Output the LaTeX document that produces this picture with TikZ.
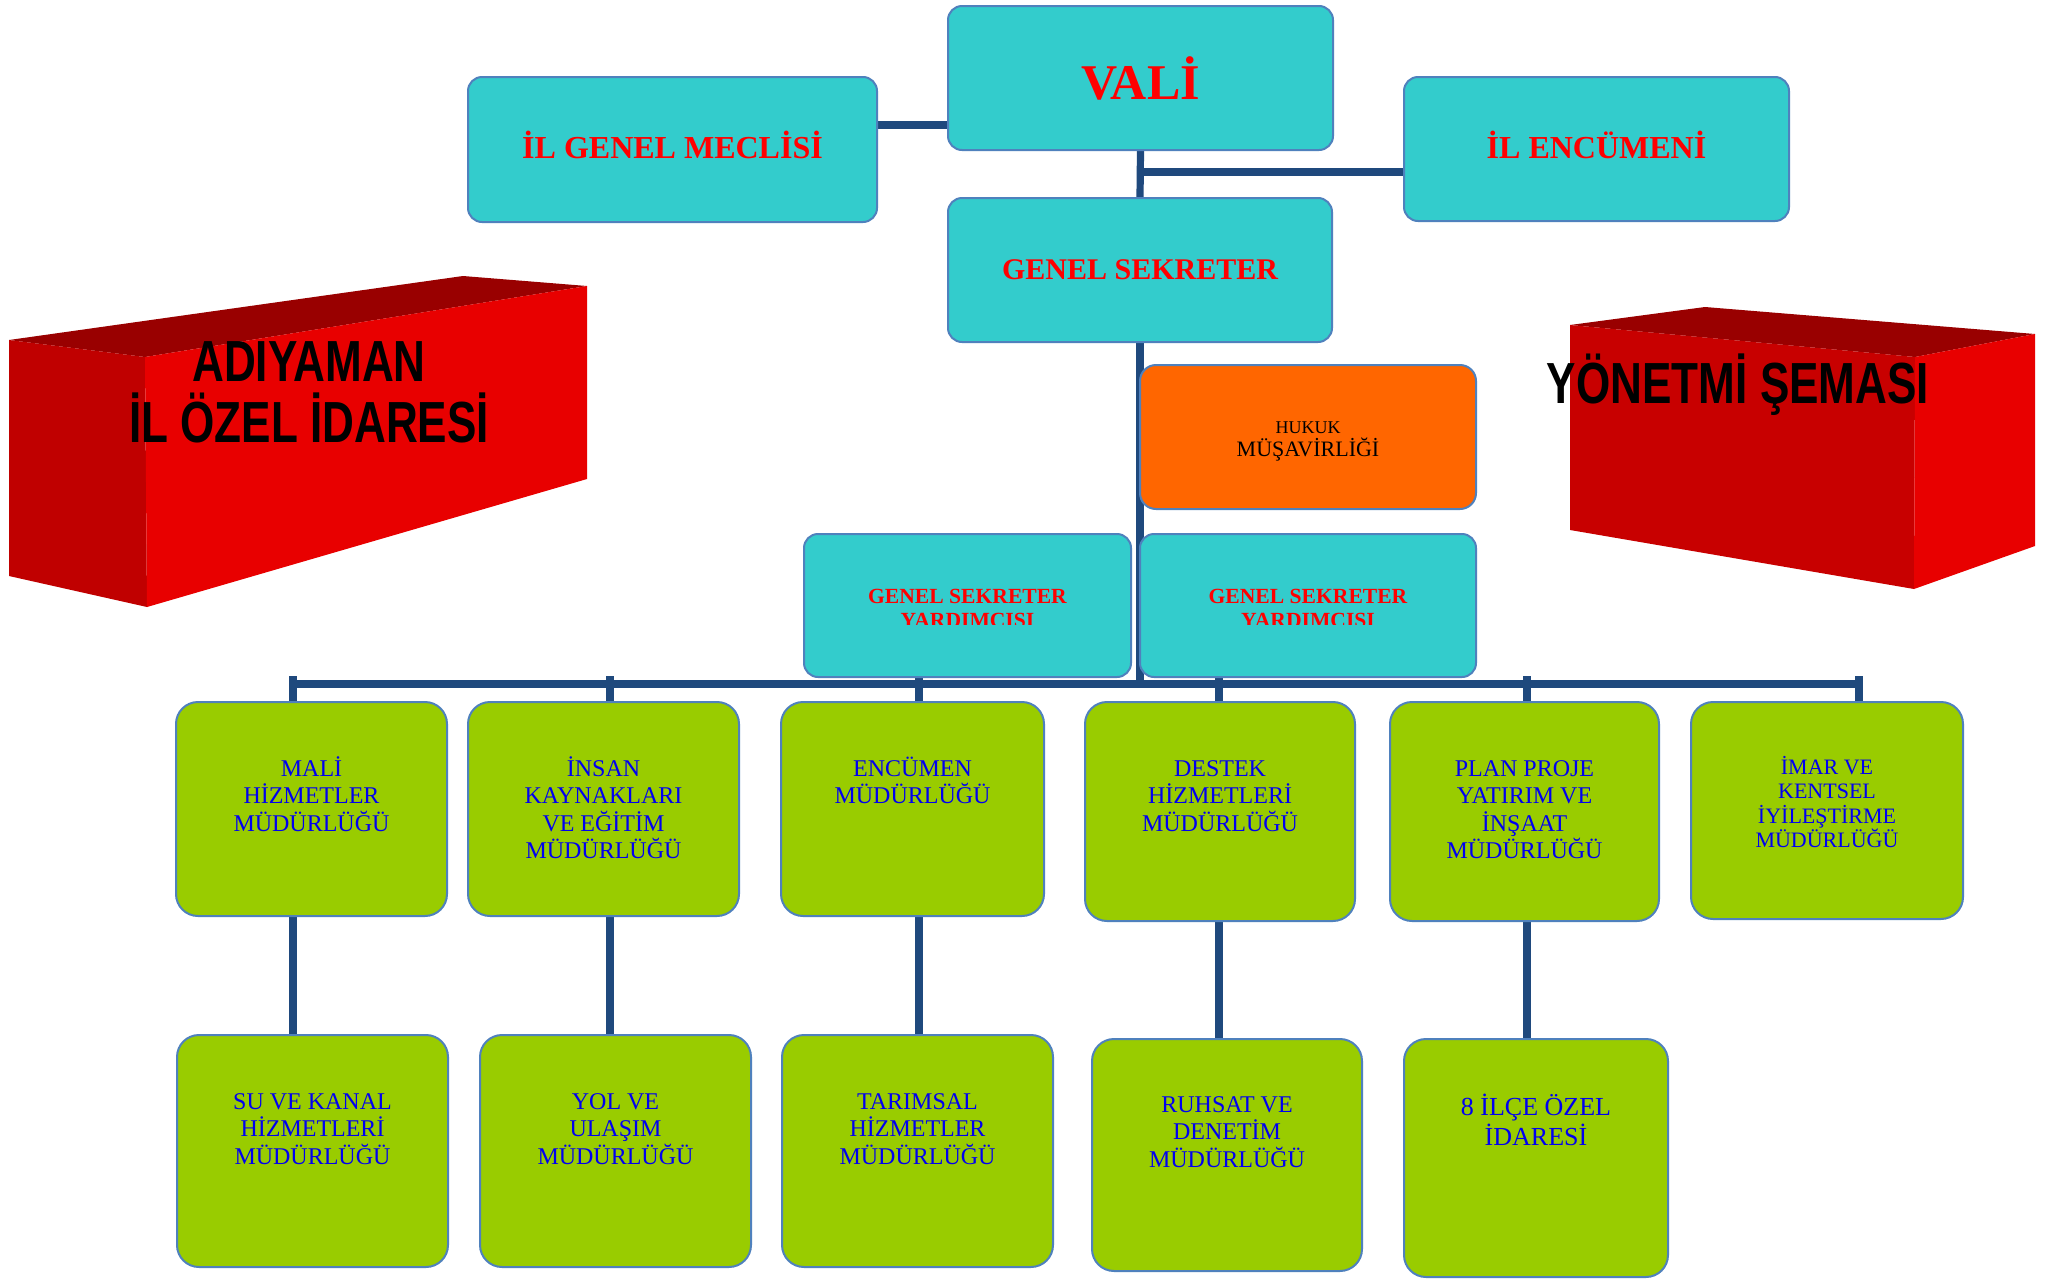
\documentclass[tikz,border=0pt]{standalone}
\usepackage{fontspec}
\setmainfont{Liberation Serif}
\newfontfamily\headsans[FakeStretch=0.76]{Liberation Sans}
\definecolor{cyanc}{HTML}{33CCCC}
\definecolor{greenc}{HTML}{99CC00}
\definecolor{orangec}{HTML}{FF6600}
\definecolor{bordc}{HTML}{4F81BD}
\definecolor{linec}{HTML}{1F497D}
\definecolor{redc}{HTML}{FF0000}
\definecolor{bluec}{HTML}{0000F0}
\definecolor{topc}{HTML}{990000}
\definecolor{sidec}{HTML}{C00000}
\definecolor{sidecb}{HTML}{C80000}
\definecolor{frontc}{HTML}{E80000}
\newcommand\firstln{\rule{0pt}{12pt}}
\pgfdeclarelayer{bglines}
\pgfsetlayers{bglines,main}
\begin{document}
\begin{tikzpicture}[x=0.5pt,y=-0.5pt,
  cbox/.style={draw=bordc, line width=1pt, fill=cyanc, rounded corners=7pt, inner sep=0pt, anchor=north west},
  obox/.style={draw=bordc, line width=1pt, fill=orangec, rounded corners=8pt, inner sep=0pt, anchor=north west},
  gbox/.style={draw=bordc, line width=1pt, fill=greenc, rounded corners=11pt, inner sep=0pt, anchor=north west},
  conn/.style={draw=linec, line width=3.6pt},
  barline/.style={draw=linec, line width=4pt},
  redtxt/.style={text=redc, font=\bfseries\fontsize{16}{18}\selectfont, inner sep=0pt, anchor=base},
  gsytxt/.style={text=redc, font=\bfseries\fontsize{10.8}{12}\selectfont, inner sep=0pt, anchor=north, align=center},
  bluetxt/.style={text=bluec, font=\fontsize{12}{13.75}\selectfont, align=center, inner sep=0pt, anchor=north},
  bigsans/.style={text=black, font=\headsans\bfseries\fontsize{29}{32}\selectfont, inner sep=0pt, anchor=base}
]
\useasboundingbox (0,0) rectangle (2062,1280);
\begin{pgfonlayer}{bglines}
\fill[white] (0,0) rectangle (2062,1280);
\end{pgfonlayer}

% 3D blocks
\fill[topc] (9,340) -- (463,276) -- (587,286) -- (145,357) -- cycle;
\fill[sidec] (9,340) -- (145,357) -- (147,607) -- (9,576) -- cycle;
\fill[frontc] (145,357) -- (587,286) -- (587,479) -- (147,607) -- cycle;
\fill[topc] (1570,325) -- (1705,307) -- (2035,334) -- (1915,357) -- cycle;
\fill[sidecb] (1570,325) -- (1915,357) -- (1914,589) -- (1570,530) -- cycle;
\fill[frontc] (1915,357) -- (2035,334) -- (2035,546) -- (1914,589) -- cycle;
\node[bigsans] (adi1) at (309,381) {ADIYAMAN};
\node[bigsans] (adi2) at (309,442) {İL ÖZEL İDARESİ};
\node[bigsans] (yon) at (1738,403) {YÖNETMİ ŞEMASI};

% boxes
\path
  node[cbox, minimum width=204.5pt, minimum height=72.5pt] (meclis) at (467,76) {}
  node[cbox, minimum width=192.5pt, minimum height=72pt] (vali) at (947,5) {}
  node[cbox, minimum width=192.5pt, minimum height=72pt] (encumen) at (1403,76) {}
  node[cbox, minimum width=192pt, minimum height=72pt] (gs) at (947,197) {}
  node[obox, minimum width=168pt, minimum height=72pt] (hukuk) at (1139,364) {}
  node[cbox, minimum width=163.5pt, minimum height=71.5pt] (gsy1) at (803,533) {}
  node[cbox, minimum width=168pt, minimum height=71.5pt] (gsy2) at (1139,533) {}
  node[gbox, minimum width=135.5pt, minimum height=107pt] (mali) at (175,701) {}
  node[gbox, minimum width=135.5pt, minimum height=107pt] (insan) at (467,701) {}
  node[gbox, minimum width=131.5pt, minimum height=107pt] (encmud) at (780,701) {}
  node[gbox, minimum width=135pt, minimum height=109.5pt] (destek) at (1084,701) {}
  node[gbox, minimum width=134.5pt, minimum height=109.5pt] (plan) at (1389,701) {}
  node[gbox, minimum width=136pt, minimum height=108.5pt] (imar) at (1690,701) {}
  node[gbox, minimum width=135.5pt, minimum height=116pt] (su) at (176,1034) {}
  node[gbox, minimum width=135.5pt, minimum height=116pt] (yol) at (479,1034) {}
  node[gbox, minimum width=135.5pt, minimum height=116pt] (tarim) at (781,1034) {}
  node[gbox, minimum width=135pt, minimum height=116pt] (ruhsat) at (1091,1038) {}
  node[gbox, minimum width=132pt, minimum height=119pt] (ilce) at (1403,1038) {};

% connectors (behind boxes)
\coordinate (lv) at (0,125);
\coordinate (le) at (0,172);
\coordinate (barL) at (293,684);
\coordinate (barR) at (1859,684);
\coordinate (b1) at (293,676);
\coordinate (b2) at (610,676);
\coordinate (b3) at (919,676);
\coordinate (b4) at (1219,676);
\coordinate (b5) at (1527,676);
\coordinate (b6) at (1859,676);
\begin{pgfonlayer}{bglines}
\draw[conn] (meclis.east |- lv) -- (vali.west |- lv);
\draw[conn] (vali.south) -- (gs.north);
\draw[conn] (vali.south |- le) -- (encumen.west |- le);
\draw[conn] (gs.south) -- (gs.south |- barL);
\draw[barline] (barL) -- (barR);
\draw[conn] (b1) -- (b1 |- mali.north);
\draw[conn] (b2) -- (b2 |- insan.north);
\draw[conn] (b3) -- (b3 |- encmud.north);
\draw[conn] (b4) -- (b4 |- destek.north);
\draw[conn] (b5) -- (b5 |- plan.north);
\draw[conn] (b6) -- (b6 |- imar.north);
\draw[conn] (b1 |- mali.south) -- (b1 |- su.north);
\draw[conn] (b2 |- insan.south) -- (b2 |- yol.north);
\draw[conn] (b3 |- encmud.south) -- (b3 |- tarim.north);
\draw[conn] (b4 |- destek.south) -- (b4 |- ruhsat.north);
\draw[conn] (b5 |- plan.south) -- (b5 |- ilce.north);
\end{pgfonlayer}

% texts in cyan boxes
\node[redtxt, font=\bfseries\fontsize{25}{28}\selectfont] (valit) at ([yshift=-47pt]vali.north) {VALİ};
\node[redtxt] (meclist) at ([yshift=-41pt]meclis.north) {İL GENEL MECLİSİ};
\node[redtxt] (encument) at ([yshift=-41pt]encumen.north) {İL ENCÜMENİ};
\node[redtxt, font=\bfseries\fontsize{15}{18}\selectfont] (gst) at ([yshift=-41pt]gs.north) {GENEL SEKRETER};
\coordinate (clipy) at (0,624);
\begin{scope}
\clip (gsy1.north west) rectangle (gsy2.east |- clipy);
\node[gsytxt] (gsy1t) at ([yshift=-25pt]gsy1.north) {\rule{0pt}{10pt}GENEL SEKRETER\\YARDIMCISI};
\node[gsytxt] (gsy2t) at ([yshift=-25pt]gsy2.north) {\rule{0pt}{10pt}GENEL SEKRETER\\YARDIMCISI};
\end{scope}
\node[inner sep=0pt, anchor=base, font=\fontsize{9}{11}\selectfont] (huk1) at ([yshift=-34.5pt]hukuk.north) {HUKUK};
\node[inner sep=0pt, anchor=base, font=\fontsize{11}{13}\selectfont] (huk2) at ([yshift=-46pt]hukuk.north) {MÜŞAVİRLİĞİ};

% texts in green boxes
\node[bluetxt] (malit) at ([yshift=-25.5pt]mali.north) {\firstln MALİ\\HİZMETLER\\MÜDÜRLÜĞÜ};
\node[bluetxt] (insant) at ([yshift=-25.5pt]insan.north) {\firstln İNSAN\\KAYNAKLARI\\VE EĞİTİM\\MÜDÜRLÜĞÜ};
\node[bluetxt] (encmudt) at ([yshift=-25.5pt]encmud.north) {\firstln ENCÜMEN\\MÜDÜRLÜĞÜ};
\node[bluetxt] (destekt) at ([yshift=-25.5pt]destek.north) {\firstln DESTEK\\HİZMETLERİ\\MÜDÜRLÜĞÜ};
\node[bluetxt] (plant) at ([yshift=-25.5pt]plan.north) {\firstln PLAN PROJE\\YATIRIM VE\\İNŞAAT\\MÜDÜRLÜĞÜ};
\node[bluetxt, font=\fontsize{11}{12.2}\selectfont] (imart) at ([yshift=-24.5pt]imar.north) {\firstln İMAR VE\\KENTSEL\\İYİLEŞTİRME\\MÜDÜRLÜĞÜ};
\node[bluetxt] (sut) at ([yshift=-25.5pt]su.north) {\firstln SU VE KANAL\\HİZMETLERİ\\MÜDÜRLÜĞÜ};
\node[bluetxt] (yolt) at ([yshift=-25.5pt]yol.north) {\firstln YOL VE\\ULAŞIM\\MÜDÜRLÜĞÜ};
\node[bluetxt] (tarimt) at ([yshift=-25.5pt]tarim.north) {\firstln TARIMSAL\\HİZMETLER\\MÜDÜRLÜĞÜ};
\node[bluetxt] (ruhsatt) at ([yshift=-25pt]ruhsat.north) {\firstln RUHSAT VE\\DENETİM\\MÜDÜRLÜĞÜ};
\node[bluetxt, font=\fontsize{13}{15}\selectfont] (ilcet) at ([yshift=-26.5pt]ilce.north) {\firstln 8 İLÇE ÖZEL\\İDARESİ};
\end{tikzpicture}
\end{document}
